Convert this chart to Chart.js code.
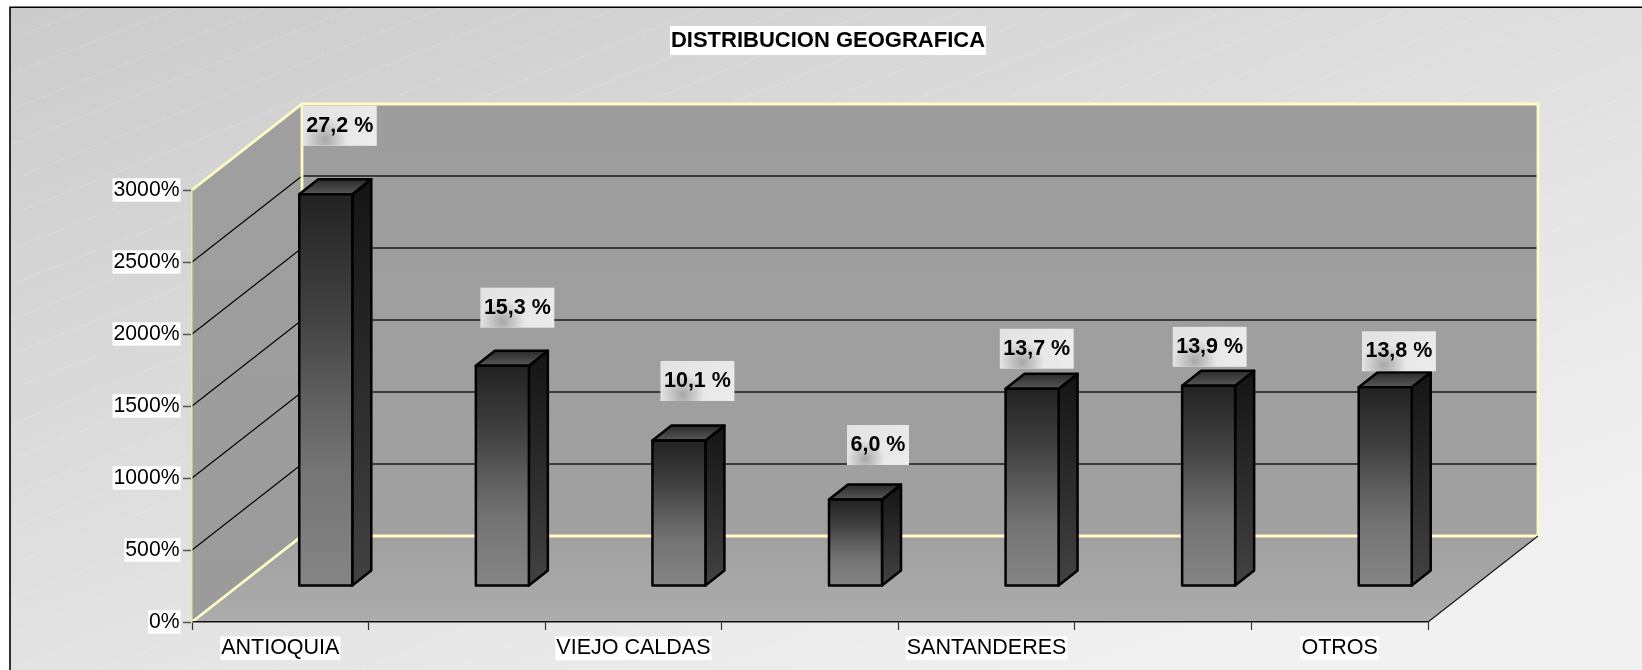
<!DOCTYPE html>
<html><head><meta charset="utf-8">
<style>html,body{margin:0;padding:0;background:#fff}canvas{display:block}</style>
<script src="https://cdn.jsdelivr.net/npm/chart.js@4"></script>
</head><body><canvas id="c" width="1642" height="670"></canvas>
<script>
const titleText = 'DISTRIBUCION GEOGRAFICA';
const categories = ['ANTIOQUIA','','VIEJO CALDAS','','SANTANDERES','','OTROS'];
const values = [27.2, 15.3, 10.1, 6.0, 13.7, 13.9, 13.8];
const yMax = 30, yStep = 5;
// hand-placed data label offsets from the bar's top centre (style, not data)
const labelShiftX = [14, 15, 18.5, 22.5, 4.7, 1, 13.7];
const labelShiftY = [-68.5, -58, -59.6, -54.6, -40, -39, -36];

const FONT = '"Liberation Sans", Arial, sans-serif';
const WALL_DX = 110, WALL_DY = -86;     // floor depth
const BAR_DX = 45.5, BAR_DY = -36;      // bar row position inside the depth
const SIDE_DX = 19, SIDE_DY = -15;      // bar depth
const YELLOW = '#fdfcc4';

function poly(ctx, pts){ ctx.beginPath(); pts.forEach((p,i)=> i?ctx.lineTo(p[0],p[1]):ctx.moveTo(p[0],p[1])); ctx.closePath(); }
function grad(ctx,x0,y0,x1,y1,a,b){ const g=ctx.createLinearGradient(x0,y0,x1,y1); g.addColorStop(0,a); g.addColorStop(1,b); return g; }

const scenePlugin = {
  id:'scene',
  beforeDraw(chart){
    const ctx=chart.ctx, {left:L,right:R,top:T,bottom:B}=chart.chartArea, W=chart.width, H=chart.height;
    ctx.save();
    ctx.fillStyle='#fff'; ctx.fillRect(0,0,W,H);
    // chart-area background
    ctx.fillStyle=grad(ctx,10,7,337,960,'#cbcbcb','#f1f1f1');
    ctx.fillRect(10,7,W-10,H-7);
    ctx.save(); ctx.beginPath(); ctx.rect(11,8,W,H); ctx.clip();
    ctx.strokeStyle='rgba(255,255,255,0.2)'; ctx.lineWidth=1; ctx.setLineDash([3,2]);
    for(let c=40;c<1000;c+=35){ ctx.beginPath(); ctx.moveTo(10,c); ctx.lineTo(1642,c-0.398*1632); ctx.stroke(); }
    ctx.restore();
    ctx.strokeStyle='#000'; ctx.lineWidth=1.6;
    ctx.beginPath(); ctx.moveTo(10,H); ctx.lineTo(10,7.3); ctx.lineTo(W,7.3); ctx.stroke();
    // title plate
    const t=chart.titleBlock; ctx.font='bold 22px '+FONT;
    const tw=ctx.measureText(titleText).width, cx=(t.left+t.right)/2;
    ctx.fillStyle='#fff'; ctx.fillRect(cx-tw/2-1,26,tw+2,29);
    // walls & floor
    const BL=L+WALL_DX, BT=T+WALL_DY, BB=B+WALL_DY, BR=R+WALL_DX;
    ctx.fillStyle=grad(ctx,0,BT,0,BB,'#9d9d9d','#a0a0a0'); ctx.fillRect(BL,BT,BR-BL,BB-BT);
    poly(ctx,[[L,T],[BL,BT],[BL,BB],[L,B]]); ctx.fillStyle=grad(ctx,0,T,0,B,'#9f9f9f','#9b9b9b'); ctx.fill();
    poly(ctx,[[L,B],[BL,BB],[BR,BB],[R,B]]); ctx.fillStyle=grad(ctx,0,BB,0,B,'#a0a0a0','#acacac'); ctx.fill();
    // gridlines from the value scale
    const y=chart.scales.y;
    y.ticks.forEach(tk=>{
      if(tk.value===0) return;
      const py=y.getPixelForValue(tk.value);
      ctx.strokeStyle='#000'; ctx.lineWidth=1.1;
      ctx.beginPath(); ctx.moveTo(L,py); ctx.lineTo(BL,py+WALL_DY); ctx.stroke();
      if(tk.value<yMax){
        ctx.strokeStyle='#3c3c3c'; ctx.lineWidth=1.8;
        ctx.beginPath(); ctx.moveTo(BL,py+WALL_DY); ctx.lineTo(BR,py+WALL_DY); ctx.stroke();
      }
    });
    // wall outline
    ctx.strokeStyle=YELLOW; ctx.lineWidth=2.8; ctx.lineJoin='miter';
    ctx.beginPath(); ctx.moveTo(L,T); ctx.lineTo(BL,BT); ctx.lineTo(BR,BT); ctx.lineTo(BR,BB); ctx.lineTo(BL,BB); ctx.lineTo(L,B); ctx.stroke();
    ctx.beginPath(); ctx.moveTo(BL,BT); ctx.lineTo(BL,BB); ctx.stroke();
    ctx.strokeStyle='#111'; ctx.lineWidth=1.1;
    ctx.beginPath(); ctx.moveTo(R,B); ctx.lineTo(BR,BB); ctx.stroke();
    ctx.restore();
  },
  beforeDatasetsDraw(chart){
    const ctx=chart.ctx;
    ctx.save();
    ctx.translate(BAR_DX,BAR_DY);
    ctx.strokeStyle='#000'; ctx.lineWidth=2.5; ctx.lineJoin='round';
    chart.getDatasetMeta(0).data.forEach(b=>{
      const xr=b.x+b.width/2, xl=b.x-b.width/2, yt=b.y, yb=b.base;
      poly(ctx,[[xr,yt],[xr+SIDE_DX,yt+SIDE_DY],[xr+SIDE_DX,yb+SIDE_DY],[xr,yb]]);
      ctx.fillStyle=grad(ctx,0,yt+SIDE_DY,0,yb,'#141414','#424242'); ctx.fill(); ctx.stroke();
      poly(ctx,[[xl,yt],[xl+SIDE_DX,yt+SIDE_DY],[xr+SIDE_DX,yt+SIDE_DY],[xr,yt]]);
      ctx.fillStyle=grad(ctx,0,yt+SIDE_DY,0,yt,'#2a2a2a','#585858'); ctx.fill(); ctx.stroke();
    });
  },
  afterDatasetsDraw(chart){
    const ctx=chart.ctx;
    // outline of each front face, centred on the bar's edge
    ctx.strokeStyle='#000'; ctx.lineWidth=2.5; ctx.lineJoin='round';
    chart.getDatasetMeta(0).data.forEach(b=>{
      ctx.strokeRect(b.x-b.width/2,b.y,b.width,b.base-b.y);
    });
    ctx.restore();
    ctx.save();
    ctx.font='bold 21.5px '+FONT; ctx.textAlign='center'; ctx.textBaseline='middle';
    chart.getDatasetMeta(0).data.forEach((b,i)=>{
      const txt=values[i].toFixed(1).replace('.',',')+' %';
      const w=ctx.measureText(txt).width+7, h=40;
      const cx=b.x+BAR_DX+labelShiftX[i], cy=b.y+BAR_DY+labelShiftY[i];
      const x0=cx-w/2, y0=cy-h/2;
      ctx.fillStyle=grad(ctx,x0,y0,x0+w,y0+h,'#e2e2e2','#ececec'); ctx.fillRect(x0,y0,w,h);
      const rg=ctx.createRadialGradient(x0+w*0.3,y0+h*0.85,1,x0+w*0.3,y0+h*0.85,w*0.3);
      rg.addColorStop(0,'rgba(150,150,150,.75)'); rg.addColorStop(1,'rgba(150,150,150,0)');
      ctx.save(); ctx.beginPath(); ctx.rect(x0,y0,w,h); ctx.clip(); ctx.fillStyle=rg; ctx.fillRect(x0,y0,w,h); ctx.restore();
      ctx.fillStyle='#000'; ctx.fillText(txt,cx,cy);
    });
    ctx.restore();
  },
  afterLayout(chart){
    // title is centred on the whole picture's plot block, not on the chart box
    chart.titleBlock.left=600; chart.titleBlock.right=1056;
  }
};

new Chart(document.getElementById('c').getContext('2d'),{
  type:'bar',
  data:{labels:categories,datasets:[{
    data:values,
    clip:false,
    categoryPercentage:1,
    barPercentage:53/176.57,
    borderWidth:0,
    backgroundColor(c){
      const ch=c.chart; if(!ch.chartArea||c.parsed===undefined) return '#555';
      const sy=ch.scales.y;
      const g=ch.ctx.createLinearGradient(0,sy.getPixelForValue(c.raw),0,sy.getPixelForValue(0));
      g.addColorStop(0,'#222222'); g.addColorStop(.33,'#444444'); g.addColorStop(.5,'#5c5c5c'); g.addColorStop(.7,'#747474'); g.addColorStop(1,'#858585');
      return g;
    }
  }]},
  options:{
    responsive:false,animation:false,
    layout:{padding:{left:0,right:214,top:0,bottom:0}},
    plugins:{
      legend:{display:false},tooltip:{enabled:false},
      title:{display:true,text:titleText,color:'#000',
        font:{family:FONT,size:22,weight:'bold',lineHeight:1.2},
        padding:{top:27.5,bottom:136.1}}
    },
    scales:{
      x:{
        afterFit(s){s.height=48;},
        border:{color:'#111',width:1.5},
        grid:{drawOnChartArea:false,drawTicks:true,tickLength:8,tickColor:'#333',tickWidth:1.2},
        ticks:{color:'#000',font:{family:FONT,size:21.5,lineHeight:1.1},padding:6.5,autoSkip:false,maxRotation:0,minRotation:0,
          showLabelBackdrop(c){return categories[c.index]!=='';},backdropColor:'#fff',backdropPadding:{left:1,right:1,top:0,bottom:0}}
      },
      y:{
        min:0,max:yMax,
        afterFit(s){s.width=192;},
        border:{color:'#e9e8a0',width:1.5},
        grid:{drawOnChartArea:false,drawTicks:true,tickLength:9,tickColor:'#555',tickWidth:1.5},
        ticks:{stepSize:yStep,color:'#000',font:{family:FONT,size:21.2,lineHeight:1.1},padding:3.5,
          callback:v=>(v*100)+'%',
          showLabelBackdrop:true,backdropColor:'#fff',backdropPadding:{left:1,right:1,top:0,bottom:0}}
      }
    }
  },
  plugins:[scenePlugin]
});
</script></body></html>
